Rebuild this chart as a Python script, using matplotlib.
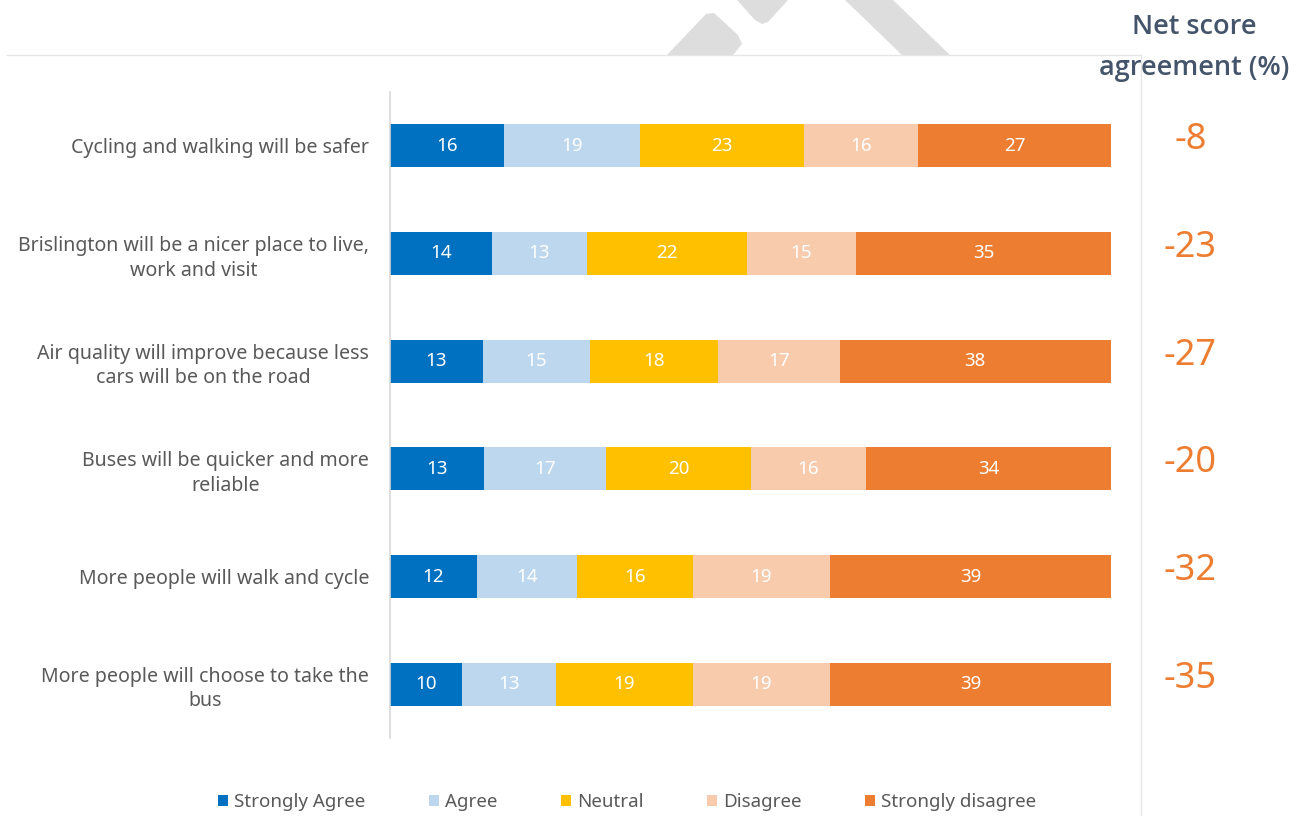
import matplotlib
matplotlib.use("Agg")
import matplotlib.pyplot as plt
from matplotlib.patches import Polygon, Patch
from matplotlib.lines import Line2D
import numpy as np

W, H = 1305, 816

statements = [
    "Cycling and walking will be safer",
    "Brislington will be a nicer place to live,\nwork and visit",
    "Air quality will improve because less\ncars will be on the road",
    "Buses will be quicker and more\nreliable",
    "More people will walk and cycle",
    "More people will choose to take the\nbus",
]
categories = ["Strongly Agree", "Agree", "Neutral", "Disagree", "Strongly disagree"]
strongly_agree = [16, 14, 13, 13, 12, 10]
agree = [19, 13, 15, 17, 14, 13]
neutral = [23, 22, 18, 20, 16, 19]
disagree = [16, 15, 17, 16, 19, 19]
strongly_disagree = [27, 35, 38, 34, 39, 39]
net_score = [-8, -23, -27, -20, -32, -35]

colors = ["#0070C0", "#BDD7EE", "#FFC000", "#F8CBAD", "#ED7D31"]

plt.rcParams["font.family"] = ["Noto Sans", "DejaVu Sans"]


def px(x, y):
    # pixel (from top-left) -> figure fraction
    return (x / W, 1 - y / H)


fig = plt.figure(figsize=(W / 100, H / 100), dpi=100)
ax = fig.add_axes([390 / W, 1 - 738 / H, (1111 - 390) / W, (738 - 92) / H])

series = np.array([strongly_agree, agree, neutral, disagree, strongly_disagree], dtype=float)
totals = series.sum(axis=0)
shares = series / totals * 100  # bars are stacked to 100%
ypos = np.arange(len(statements))

left = np.zeros(len(statements))
for i, cat in enumerate(categories):
    ax.barh(ypos, shares[i], left=left, height=0.4, color=colors[i], label=cat)
    for y, l, w, v in zip(ypos, left, shares[i], series[i]):
        ax.text(l + w / 2, y, f"{v:.0f}", ha="center", va="center",
                color="white", fontsize=13.5)
    left += shares[i]

ax.set_xlim(0, 100)
ax.set_ylim(len(statements) - 0.5, -0.5)
ax.set_xticks([])
ax.set_yticks(ypos)
ax.set_yticklabels(statements, fontsize=14.1, color="#595959",
                   multialignment="center", linespacing=1.3)
ax.tick_params(axis="y", length=0, pad=15)
for s in ["top", "right", "bottom"]:
    ax.spines[s].set_visible(False)
ax.spines["left"].set_color("#D9D9D9")
ax.spines["left"].set_linewidth(1.2)

# net score column
for y, n in zip(ypos, net_score):
    ax.text(111.0, y - 0.05, f"{n}", ha="center", va="center",
            color="#ED7D31", fontsize=26, clip_on=False)
hdr = dict(ha="center", va="center", color="#44546A", fontsize=19.5,
           fontweight=600, family=["Open Sans", "DejaVu Sans"])
fig.text(*px(1194, 27), "Net score", **hdr)
fig.text(*px(1194, 68), "agreement (%)", **hdr)

# frame lines
fig.add_artist(Line2D([7 / W, 1141 / W], [1 - 55 / H] * 2, color="#E6E6E6", lw=1))
fig.add_artist(Line2D([1141 / W] * 2, [1 - 55 / H, 0], color="#E6E6E6", lw=1))

# watermark fragments above the frame line
wm = [
    [(667, 55), (706, 14), (714, 13), (738, 35), (742, 44), (733, 55)],
    [(737, 0), (755, 20), (762, 24), (768, 22), (788, 0)],
    [(845, 0), (893, 0), (950, 55), (902, 55)],
]
for poly in wm:
    fig.add_artist(Polygon([px(x, y) for x, y in poly], closed=True,
                           transform=fig.transFigure, facecolor="#DDDDDD",
                           edgecolor="none"))

handles = [Patch(facecolor=c, label=cat) for c, cat in zip(colors, categories)]
fig.legend(handles=handles, loc="center", bbox_to_anchor=px(627, 802), ncol=5,
           frameon=False, fontsize=13.5, handlelength=0.55, handleheight=0.55,
           handletextpad=0.3, columnspacing=3.4, labelcolor="#595959")

fig.savefig("out.png", dpi=100)
